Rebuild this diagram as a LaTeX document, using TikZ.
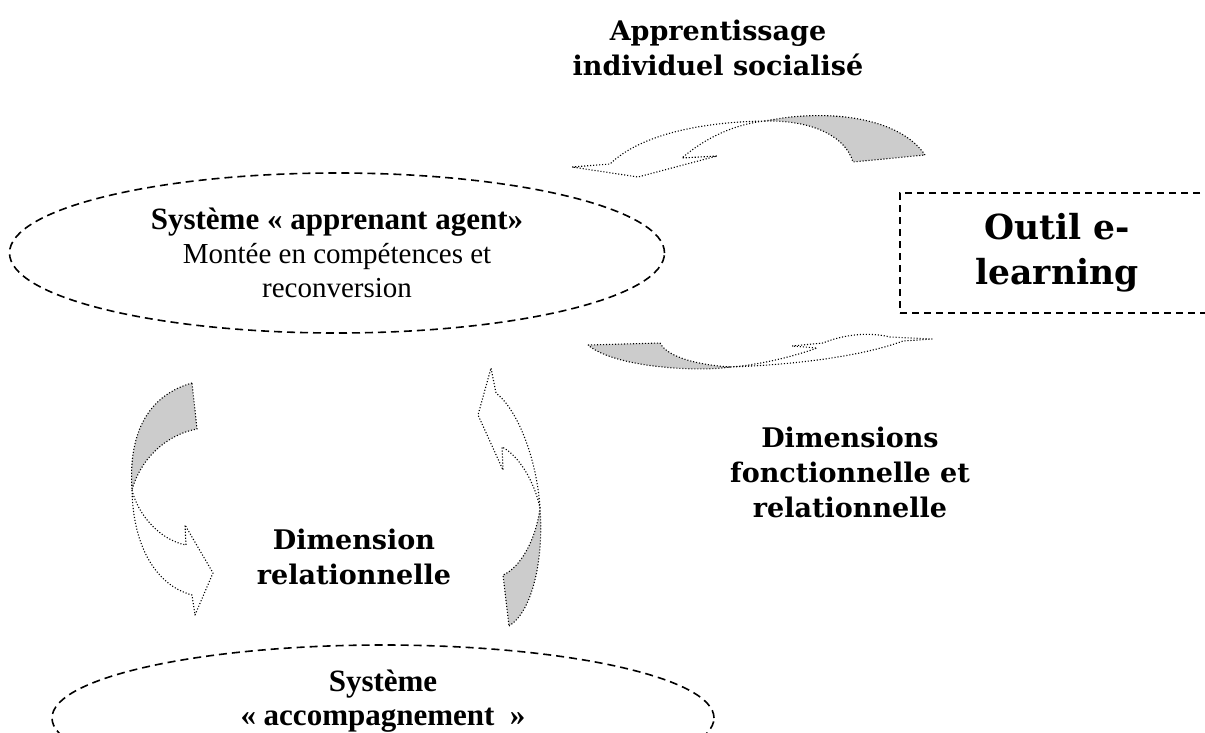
\documentclass[tikz,border=0pt]{standalone}
\usepackage{fontspec}
\setmainfont{Liberation Serif}
\newfontfamily\lblfont{DejaVu Serif}
\usetikzlibrary{shapes.geometric}
\definecolor{shadegray}{RGB}{204,204,204}
\tikzset{
 sysell/.style={ellipse, draw, line width=1.6pt, dash pattern=on 8pt off 5pt, inner sep=0pt},
 systext/.style={align=center, inner sep=0pt, font=\fontsize{29}{34}\selectfont},
 toolbox/.style={rectangle, draw, line width=1.6pt, dash pattern=on 7pt off 5pt, inner sep=0pt},
 tooltext/.style={align=center, inner sep=0pt, font=\lblfont\bfseries\fontsize{34.5}{45}\selectfont},
 lbl/.style={align=center, font=\lblfont\bfseries\fontsize{27}{35}\selectfont, inner sep=0pt},
 dotline/.style={line width=1.1pt, dash pattern=on 1.1pt off 1.9pt, line join=round},
 backface/.style={dotline, fill=shadegray},
 frontface/.style={dotline, fill=white},
}
\newcommand{\bigbold}[1]{{\fontsize{31}{34}\selectfont\bfseries #1}}
\begin{document}
\begin{tikzpicture}[x=1pt,y=-1pt]
\useasboundingbox (0,0) rectangle (1205,733);

% systems
\node[sysell, minimum width=655pt, minimum height=160pt] (agent) at (337,253) {};
\node[systext] (agenttext) at (agent.center)
  {\bigbold{Système « apprenant agent»}\\Montée en compétences et\\reconversion};
\node[sysell, minimum width=662pt, minimum height=146pt] (accomp) at (383,718) {};
\node[systext] (accomptext) at (383,701)
  {\bigbold{Système}\\\bigbold{« accompagnement~ »}};
\node[toolbox, minimum width=324pt, minimum height=120pt] (tool) at (1062,253) {};
\node[tooltext] (tooltxt) at (1057,253) {Outil e-\\learning};

% labels
\node[lbl] (lapp) at (718,48) {Apprentissage\\individuel socialisé};
\node[lbl] (lfon) at (850,472) {Dimensions\\fonctionnelle et\\relationnelle};
\node[lbl] (lrel) at (354,557) {Dimension\\relationnelle};

% arrow A (top, towards the agent system)
\coordinate (xa) at (765,121);
\draw[backface] (925,155) .. controls (900,118) and (830,108) .. (xa)
  .. controls (810,120) and (845,135) .. (853,162) -- cycle;
\draw[frontface] (xa) .. controls (700,122) and (640,135) .. (610,164)
  -- (572,167) -- (638,177) -- (717,156) -- (682,158)
  .. controls (705,138) and (735,124) .. (xa);

% arrow B (middle, towards the tool)
\coordinate (xb) at (730,367);
\draw[backface] (588,345) -- (660,343) .. controls (668,358) and (700,365) .. (xb)
  .. controls (700,372) and (615,368) .. cycle;
\draw[frontface] (xb) .. controls (790,365) and (860,357) .. (903,341)
  -- (932,339) -- (890,337) .. controls (870,332) and (845,334) .. (823,343)
  -- (792,346) -- (817,348) .. controls (795,356) and (760,365) .. (xb);

% arrow C (left, downwards)
\coordinate (xc) at (132,490);
\draw[backface] (192,383) .. controls (150,395) and (128,430) .. (xc)
  .. controls (140,460) and (165,435) .. (197,429) -- cycle;
\draw[frontface] (xc) .. controls (133,545) and (155,585) .. (192,595)
  -- (195,615) -- (213,573) -- (185,525) -- (186,545)
  .. controls (160,540) and (138,515) .. (xc);

% arrow D (right, upwards)
\coordinate (xd) at (540,508);
\draw[backface] (509,626) .. controls (532,612) and (544,560) .. (xd)
  .. controls (536,540) and (520,568) .. (503,575) -- cycle;
\draw[frontface] (xd) .. controls (537,460) and (518,410) .. (496,393)
  -- (491,368) -- (478,415) -- (503,470) -- (502,447)
  .. controls (518,455) and (534,480) .. (xd);
\end{tikzpicture}
\end{document}
